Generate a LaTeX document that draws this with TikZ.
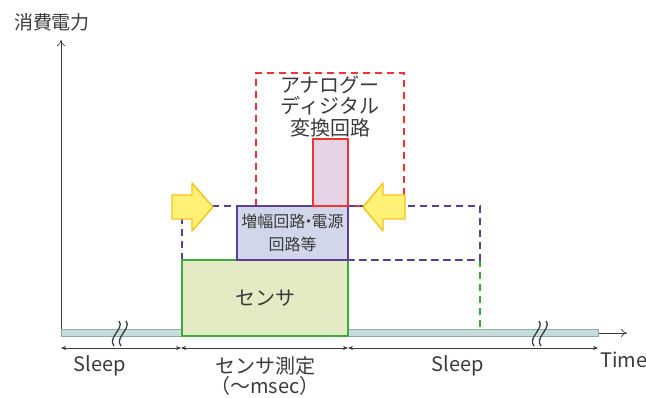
\documentclass[tikz,border=0pt]{standalone}
\usepackage{fontspec}
\newfontfamily\jp{Noto Sans CJK JP}
\usetikzlibrary{arrows.meta}
\definecolor{txt}{HTML}{3A3A3A}
\definecolor{grn}{HTML}{3DAA3D}
\definecolor{grnfill}{HTML}{E4EAC4}
\definecolor{pur}{HTML}{5A3E98}
\definecolor{purfill}{HTML}{D3D6EA}
\definecolor{rd}{HTML}{EE3333}
\definecolor{rdfill}{HTML}{E5D4E6}
\definecolor{barfill}{HTML}{C5DCDA}
\definecolor{barline}{HTML}{8EAAAA}
\definecolor{yfill}{HTML}{FFF176}
\definecolor{yline}{HTML}{F5C21A}
\tikzset{
  lbl/.style={font=\jp\fontsize{20}{21}\selectfont, text=txt, inner sep=0pt, align=center},
  sensorbox/.style={draw=grn, fill=grnfill, line width=1.5pt, inner sep=0pt, font=\jp\fontsize{20}{21}\selectfont, text=txt},
  ampbox/.style={draw=pur, fill=purfill, line width=1.5pt, inner sep=0pt, align=center, font=\jp\fontsize{16}{23}\selectfont, text=txt},
  adcbox/.style={draw=rd, fill=rdfill, line width=1.5pt, inner sep=0pt},
  purdash/.style={draw=pur, line width=1.6pt, dash pattern=on 7pt off 5pt},
  rddash/.style={draw=rd, line width=1.4pt, dash pattern=on 7pt off 5pt},
  grndash/.style={draw=grn, line width=1.4pt, dash pattern=on 7pt off 5pt},
  yarrow/.style={fill=yfill, draw=yline, line width=1.4pt, line join=round},
  dimline/.style={draw=txt, line width=0.6pt, {Stealth[length=5pt,width=4pt]}-{Stealth[length=5pt,width=4pt]}},
  axis/.style={draw=txt, line width=0.7pt, -{To[length=6pt,width=8pt]}},
  squig/.style={draw=txt, line width=1.3pt}
}
\begin{document}
\begin{tikzpicture}[x=1pt,y=-1pt]
\useasboundingbox (0,0) rectangle (646,398);
% axes
\coordinate (o) at (61,333);
\coordinate (ytop) at (61,40);
\coordinate (xend) at (627,333);
\draw[axis] (o) -- (ytop);
\draw[axis] (o) -- (xend);
\node[lbl, font=\jp\fontsize{19}{20}\selectfont] (ylab) at (52,22) {消費電力};
% baseline bar
\draw[fill=barfill, draw=barline, line width=0.8pt] (61,329.5) rectangle (598,336.5);
% red dashed ADC region
\draw[rddash] (256,206) -- (256,73) -- (404,73) -- (404,206) -- cycle;
% green dashed
\draw[grndash] (348,260) -- (480,260) -- (480,330);
% purple dashed
\draw[purdash] (182,260) -- (182,206) -- (237,206);
\draw[purdash] (348,206) -- (480,206) -- (480,260) -- (348,260);
% boxes
\node[sensorbox, minimum width=166pt, minimum height=76pt] (sensor) at (265,298) {センサ};
\node[ampbox, text width=111pt, minimum height=54pt] (amp) at (292.5,233) {増幅回路\hspace{-0.3em}・\hspace{-0.3em}電源\\回路等};
\node[adcbox, minimum width=35pt, minimum height=67pt] (adc) at (330.5,172.5) {};
\node[lbl, font=\jp\fontsize{20}{21.5}\selectfont] (adclbl) at (330,106) {アナログー\\ディジタル\\変換回路};
% yellow arrows
\draw[yarrow] (172,195) -- (192,195) -- (192,183) -- (213,207) -- (192,231) -- (192,219) -- (172,219) -- cycle;
\draw[yarrow] (405,195) -- (383,195) -- (383,183) -- (363,207) -- (383,231) -- (383,219) -- (405,219) -- cycle;
% squiggles
\foreach \x in {116,123} {
  \draw[squig] (\x+3,321) .. controls (\x+9,328) and (\x-9,338) .. (\x-2,346);
}
\foreach \x in {536,543} {
  \draw[squig] (\x+3,321) .. controls (\x+9,328) and (\x-9,338) .. (\x-2,346);
}
% dimension arrows
\coordinate (d0) at (61,348);
\coordinate (d1) at (181,348);
\coordinate (d2) at (348,348);
\coordinate (d3) at (598,348);
\draw[dimline] (d0) -- (d1);
\draw[dimline] (d1) -- (d2);
\draw[dimline] (d2) -- (d3);
\node[lbl] (sleep1) at (100,366) {Sleep};
\node[lbl] (meas) at (265,366) {センサ測定};
\node[lbl] (msec) at (265,386) {（〜msec）};
\node[lbl] (sleep2) at (458,366) {Sleep};
\node[lbl, anchor=west] (time) at (600,360) {Time};
\end{tikzpicture}
\end{document}
